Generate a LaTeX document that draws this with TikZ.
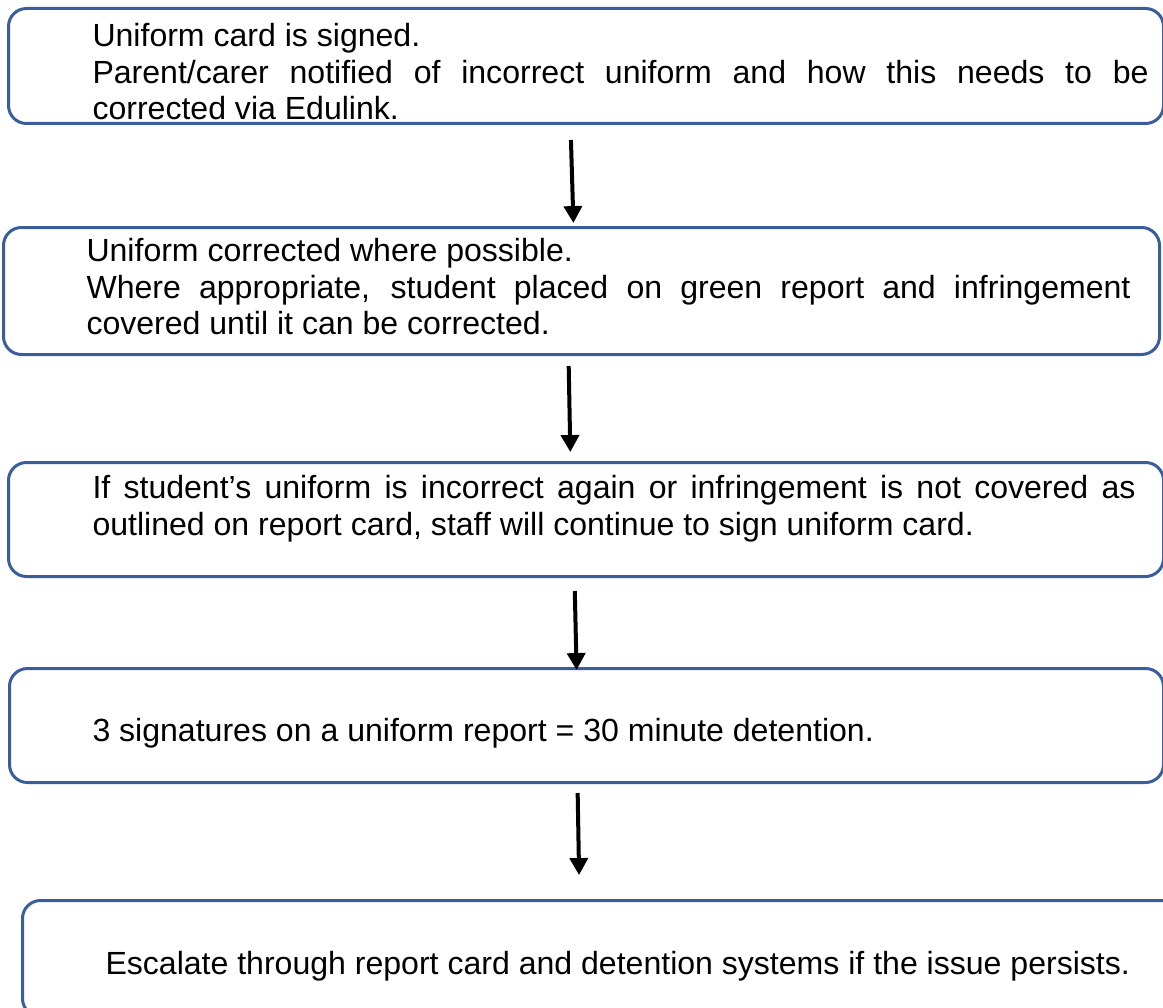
\documentclass[tikz,border=0pt]{standalone}
\usepackage{fontspec}
\setmainfont{Liberation Sans}
\usetikzlibrary{arrows.meta}
\newdimen\pxu
\pxu=0.39pt
\definecolor{boxblue}{HTML}{3A5D9C}
\tikzset{
    box/.style={draw=boxblue, line width=3\pxu, rounded corners=18\pxu, inner sep=0pt, anchor=north west},
    txt/.style={anchor=north west, inner sep=0pt, align=justify, font=\fontsize{12.5}{14.2}\selectfont},
    flow/.style={line width=4\pxu, -{Triangle[width=7pt, length=6.6pt]}}
}
\begin{document}
\begin{tikzpicture}[x=\pxu, y=-\pxu]
                \useasboundingbox (0,0) rectangle (1163,1007);
                \node[txt, text width=1056\pxu] (t1) at (92,23) {Uniform card is signed.\\ Parent/carer notified of incorrect uniform and how this needs to be\linebreak corrected via Edulink.};
                \node[txt, text width=1044\pxu] (t2) at (86,238) {Uniform corrected where possible.\\ Where appropriate, student placed on green report and infringement\linebreak covered until it can be corrected.};
                \node[txt, text width=1043\pxu] (t3) at (92,475) {If student’s uniform is incorrect again or infringement is not covered as\linebreak outlined on report card, staff will continue to sign uniform card.};
                \node[txt] (t4) at (92,718) {3 signatures on a uniform report = 30 minute detention.};
                \node[txt] (t5) at (105,951) {Escalate through report card and detention systems if the issue persists.};
                \node[box, minimum width=1155\pxu, minimum height=115\pxu] (b1) at (7,7) {};
                \node[box, minimum width=1156\pxu, minimum height=127\pxu] (b2) at (2,226) {};
                \node[box, minimum width=1155\pxu, minimum height=114\pxu] (b3) at (7,461) {};
                \node[box, minimum width=1154\pxu, minimum height=114\pxu] (b4) at (8,667) {};
                \node[box, minimum width=1164\pxu, minimum height=116\pxu] (b5) at (21,899) {};
                \draw[flow, shorten <=5.85pt, shorten >=1.17pt] ([xshift=-6.05pt]b1.south) -- ([xshift=-3.12pt]b2.north);
                \draw[flow, shorten <=3.9pt, shorten >=3.51pt] ([xshift=-5.07pt]b2.south) -- ([xshift=-6.05pt]b3.north);
                \draw[flow, shorten <=5.07pt, shorten >=-1.17pt] ([xshift=-4.49pt]b3.south) -- ([xshift=-3.9pt]b4.north);
                \draw[flow, shorten <=3.51pt, shorten >=9.36pt] ([xshift=-3.51pt]b4.south) -- ([xshift=-9.75pt]b5.north);
            \end{tikzpicture}
\end{document}
